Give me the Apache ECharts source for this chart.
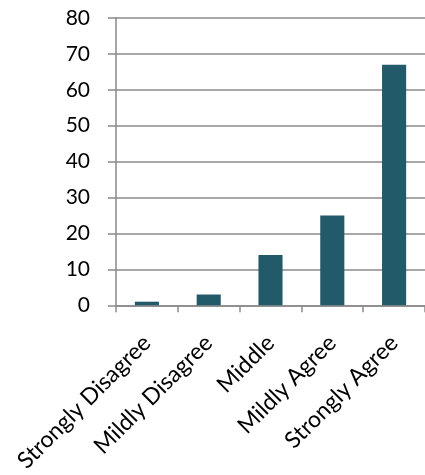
<!DOCTYPE html>
<html><head><meta charset="utf-8">
<script src="https://cdn.jsdelivr.net/npm/echarts@6/dist/echarts.min.js"></script>
<style>html,body{margin:0;padding:0;background:#fff}#c{width:425px;height:475px}</style>
</head><body><div id="c"></div>
<script>
const categories = ["Strongly Disagree", "Mildly Disagree", "Middle", "Mildly Agree", "Strongly Agree"];
const values = [1, 3, 14, 25, 67];
const yMin = 0, yMax = 80, yStep = 10;

const chart = echarts.init(document.getElementById('c'), null, {renderer: 'canvas'});
const font = 'Lato';
chart.setOption({
  animation: false,
  grid: {left: 116, top: 18, width: 311.5, height: 290, containLabel: false},
  xAxis: {
    type: 'category', data: categories,
    axisLine: {lineStyle: {color: '#8a8a8a', width: 1.5}},
    axisTick: {show: true, length: 7, lineStyle: {color: '#8a8a8a', width: 1.5}},
    axisLabel: {rotate: 45, interval: 0, margin: 34, color: '#000', fontSize: 23, fontFamily: font}
  },
  yAxis: {
    type: 'value', min: yMin, max: yMax, interval: yStep,
    axisLine: {show: true, lineStyle: {color: '#8a8a8a', width: 1.5}},
    axisTick: {show: true, length: 8, lineStyle: {color: '#8a8a8a', width: 1.5}},
    splitLine: {lineStyle: {color: '#8a8a8a', width: 1.5}},
    axisLabel: {margin: 26, color: '#000', fontSize: 21, fontFamily: font}
  },
  series: [{
    type: 'bar', data: values, barWidth: '39%',
    itemStyle: {color: '#235a69'}
  }]
});
</script></body></html>
